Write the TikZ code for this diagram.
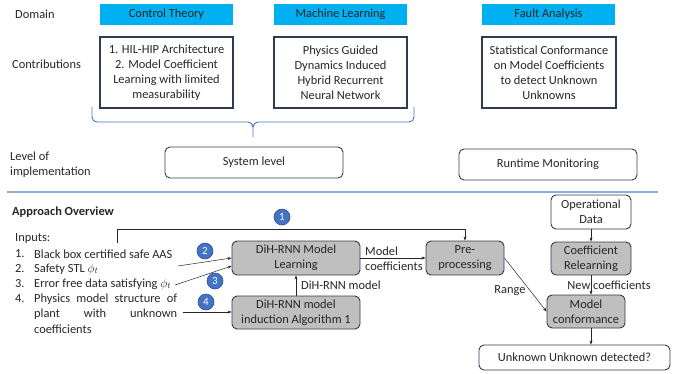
\documentclass[tikz,border=0pt]{standalone}
\usepackage{fontspec}
\setmainfont{Carlito}
\usetikzlibrary{arrows.meta}
\definecolor{cyanbox}{HTML}{00B0F0}
\definecolor{bordc}{HTML}{2F3B52}
\definecolor{grayf}{HTML}{BFBFBF}
\definecolor{bluec}{HTML}{4472C4}
\definecolor{circb}{HTML}{2F528F}
\definecolor{sepc}{HTML}{8EAADB}
\definecolor{txt}{HTML}{262626}
\newcommand{\fs}{\fontsize{12.4}{15}\selectfont}
\tikzset{
  lbl/.style={font=\fs, text=txt, inner sep=0pt},
  dombox/.style={fill=cyanbox, draw=none, minimum width=133pt, minimum height=21pt, inner sep=0pt, font=\fs, text=txt},
  contrib/.style={draw=bordc, line width=1.1pt, minimum width=133pt, minimum height=71pt, align=center, inner sep=0pt, font=\fs, text=txt},
  lvlbox/.style={draw=bordc, line width=0.9pt, rounded corners=5pt, minimum width=178pt, minimum height=31pt, inner sep=0pt, font=\fs, text=txt},
  procbox/.style={draw=bordc, fill=grayf, line width=0.9pt, rounded corners=5pt, align=center, inner sep=0pt, font=\fs, text=txt},
  whitebox/.style={draw=bordc, fill=white, line width=0.9pt, rounded corners=5pt, align=center, inner sep=0pt, font=\fs, text=txt},
  numc/.style={circle, fill=bluec, draw=circb, line width=0.6pt, minimum size=16pt, inner sep=0pt, text=white, font=\fontsize{11}{12}\selectfont},
  arr/.style={-{Stealth[length=4pt,width=3pt]}, line width=0.5pt, draw=txt},
}
\begin{document}
\begin{tikzpicture}[x=1pt,y=-1pt]
\useasboundingbox (0,0) rectangle (673,373);
% header row
\node[lbl, anchor=west] (domain) at (15,14.5) {Domain};
\node[dombox] (ct) at (166.5,14.5) {Control Theory};
\node[dombox] (ml) at (340.5,14.5) {Machine Learning};
\node[dombox] (fa) at (548.5,14.5) {Fault Analysis};
% contributions
\node[lbl, anchor=west] (contr) at (12,64.5) {Contributions};
\node[contrib] (c1) at (166.5,72.5) {1. HIL-HIP Architecture\\2. Model Coefficient\\Learning with limited\\measurability};
\node[contrib] (c2) at (340.5,72.5) {Physics Guided\\Dynamics Induced\\Hybrid Recurrent\\Neural Network};
\node[contrib, minimum width=134pt] (c3) at (549,72.5) {Statistical Conformance\\on Model Coefficients\\to detect Unknown\\Unknowns};
% brace
\draw[bluec, line width=0.9pt] (92,107) -- (92,117) to[out=-90,in=180] (97,122) -- (248,122) to[out=0,in=90] (253,127) -- (253,137);
\draw[bluec, line width=0.9pt] (253,127) to[out=90,in=180] (258,122) -- (409,122) to[out=0,in=-90] (414,117) -- (414,107);
% level
\node[lbl, anchor=west, align=left] (lvl) at (10,164.5) {Level of\\implementation};
\node[lvlbox] (sys) at (254,162.5) {System level};
\node[lvlbox] (rt) at (548,164.5) {Runtime Monitoring};
% separator
\draw[sepc, line width=1.3pt] (7,192) -- (658,192);
% approach
\node[lbl, anchor=west, font=\fs\bfseries] (ao) at (12,212) {Approach Overview};
\node[lbl, anchor=west] (inp) at (15,239) {Inputs:};
\node[lbl, anchor=west] (n1) at (15,254) {1.};
\node[lbl, anchor=west] (t1) at (34,254) {Black box certified safe AAS};
\node[lbl, anchor=west] (n2) at (15,269) {2.};
\node[lbl, anchor=west] (t2) at (34,269) {Safety STL $\phi_t$};
\node[lbl, anchor=west] (n3) at (15,284) {3.};
\node[lbl, anchor=west] (t3) at (34,284) {Error free data satisfying $\phi_t$};
\node[lbl, anchor=west] (n4) at (15,299) {4.};
\node[lbl, anchor=west] (t4) at (34,299) {\makebox[143pt][s]{Physics model structure of}};
\node[lbl, anchor=west] (t5) at (34,314) {\makebox[143pt][s]{plant with unknown}};
\node[lbl, anchor=west] (t6) at (34,329) {coefficients};
% process boxes
\node[procbox, minimum width=128pt, minimum height=34pt] (learn) at (296,258) {DiH-RNN Model\\Learning};
\node[procbox, minimum width=128pt, minimum height=33pt] (induct) at (296,312.5) {DiH-RNN model\\induction Algorithm 1};
\node[procbox, minimum width=78pt, minimum height=34pt] (pre) at (465,258) {Pre-\\processing};
\node[whitebox, minimum width=80pt, minimum height=34pt] (op) at (591,212) {Operational\\Data};
\node[procbox, minimum width=80pt, minimum height=33pt] (cr) at (591,258.5) {Coefficient\\Relearning};
\node[procbox, minimum width=78pt, minimum height=33pt] (mc) at (586,311.5) {Model\\conformance};
\node[whitebox, minimum width=191pt, minimum height=25pt] (uu) at (574.5,357.5) {Unknown Unknown detected?};
% circles
\node[numc] (k1) at (282,217) {1};
\node[numc] (k2) at (205,251) {2};
\node[numc] (k3) at (215,281) {3};
\node[numc] (k4) at (206,302) {4};
% connectors
\coordinate (s1) at (117,243);
\coordinate (s2) at (178,266);
\coordinate (s3) at (175,285);
\coordinate (s4) at (183,312);
\draw[arr] (s1) -- (117,229) -- (pre.north |- 0,229) -- (pre.north);
\draw[arr] (s2) -- (learn.west |- 0,258);
\draw[arr] (s3) -- (learn.west |- 0,266);
\draw[arr] (s4) -- (induct.west |- s4);
\draw[arr] (induct.north) -- (learn.south);
\node[lbl, anchor=west] (dm) at (301,285) {DiH-RNN model};
\draw[arr] (learn.east) -- (pre.west);
\node[lbl, anchor=west] (mcl1) at (365,251) {Model};
\node[lbl, anchor=west] (mcl2) at (365,266) {coefficients};
\draw[arr] (op.south) -- (cr.north);
\draw[arr] (cr.south) -- (cr.south |- mc.north);
\node[lbl] (nc) at (609,285) {New coefficients};
\draw[arr] (pre.east) -- (mc.west);
\node[lbl] (rg) at (510,291) {Range};
\draw[arr] (cr.south |- mc.south) -- (cr.south |- uu.north);
\end{tikzpicture}
\end{document}
